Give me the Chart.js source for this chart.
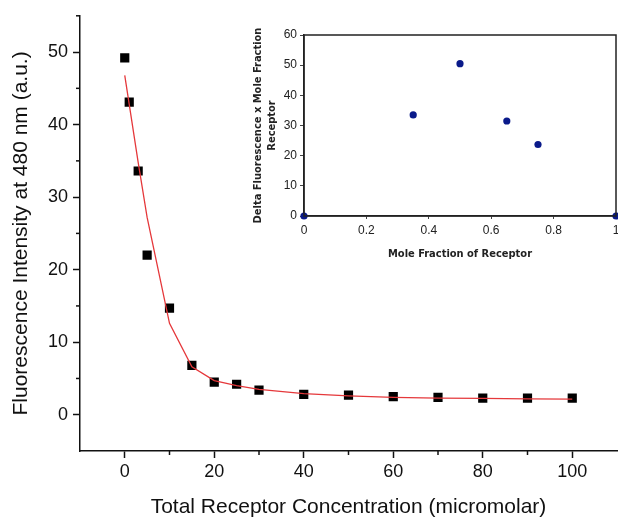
<!DOCTYPE html>
<html>
<head>
<meta charset="utf-8">
<script src="https://cdn.jsdelivr.net/npm/chart.js@4"></script>
<style>
    body { margin: 0; background: #fff; }
    #wrap { position: relative; width: 618px; height: 520px; }
    #main { position: absolute; left: 0; top: 0; }
    #inset { position: absolute; left: 240px; top: 20px; }
</style>
</head>
<body>
<div id="wrap">
    <canvas id="main" width="618" height="520"></canvas>
    <canvas id="inset" width="378" height="250"></canvas>
</div>
<script>
// titration data (main plot)
const concentration = [0, 1, 3, 5, 10, 15, 20, 25, 30, 40, 50, 60, 70, 80, 90, 100];
const intensity = [49.2, 43.1, 33.6, 22.0, 14.7, 6.8, 4.5, 4.2, 3.4, 2.8, 2.7, 2.5, 2.4, 2.3, 2.3, 2.3];
const fitted = [46.8, 42.8, 34.8, 27.2, 12.6, 6.6, 4.7, 4.0, 3.5, 2.9, 2.6, 2.4, 2.3, 2.25, 2.2, 2.15];

// job plot data (inset)
const moleFraction = [0, 0.35, 0.5, 0.65, 0.75, 1];
const deltaFluor = [0, 33.5, 50.5, 31.5, 23.7, 0];

const mainXLabels = [0, 20, 40, 60, 80, 100];
const mainYLabels = [0, 10, 20, 30, 40, 50];

function toPoints(xs, ys) {
    return xs.map((x, i) => ({ x: x, y: ys[i] }));
}

// the scale box keeps extra room for the last label, drop it
function noSidePadding(s) {
    s.paddingLeft = 0;
    s.paddingRight = 0;
}

// short minor ticks, drawn on the scales' own pixel positions
const minorTicks = {
    id: 'minorTicks',
    afterDraw(chart, args, opts) {
        const ctx = chart.ctx;
        ctx.save();
        ctx.strokeStyle = '#111';
        ctx.lineWidth = 1.5;
        const xs = chart.scales.x;
        const ys = chart.scales.y;
        opts.x.forEach(v => {
            const px = xs.getPixelForValue(v);
            ctx.beginPath();
            ctx.moveTo(px, xs.top);
            ctx.lineTo(px, xs.top + 4);
            ctx.stroke();
        });
        opts.y.forEach(v => {
            const py = ys.getPixelForValue(v);
            ctx.beginPath();
            ctx.moveTo(ys.right, py);
            ctx.lineTo(ys.right - 4, py);
            ctx.stroke();
        });
        ctx.restore();
    }
};

const frameBox = {
    id: 'frameBox',
    afterDraw(chart) {
        const a = chart.chartArea;
        const ctx = chart.ctx;
        ctx.save();
        ctx.strokeStyle = '#222';
        ctx.lineWidth = 1.5;
        ctx.strokeRect(a.left, a.top, a.right - a.left, a.bottom - a.top);
        ctx.restore();
    }
};

new Chart(document.getElementById('main'), {
    type: 'scatter',
    data: {
        datasets: [{
            label: 'fit',
            type: 'line',
            data: toPoints(concentration, fitted),
            borderColor: '#e5383b',
            borderWidth: 1.3,
            pointRadius: 0,
            tension: 0,
            fill: false
        }, {
            label: 'data',
            data: toPoints(concentration, intensity),
            pointStyle: 'rect',
            pointRadius: 6.5,
            backgroundColor: '#000',
            borderColor: '#000',
            borderWidth: 0
        }]
    },
    options: {
        responsive: false,
        animation: false,
        layout: { autoPadding: false, padding: { top: 14, right: 1, left: 0, bottom: 0 } },
        plugins: {
            legend: { display: false },
            tooltip: { enabled: false },
            minorTicks: {
                x: [10, 30, 50, 70, 90],
                y: [5, 15, 25, 35, 45, 55]
            }
        },
        scales: {
            x: {
                type: 'linear',
                min: -10,
                max: 110,
                afterFit: s => { s.height = 69; noSidePadding(s); },
                border: { color: '#111', width: 1.5 },
                grid: {
                    drawOnChartArea: false,
                    tickLength: 7,
                    tickWidth: 1.5,
                    tickColor: c => (c.tick && mainXLabels.includes(c.tick.value)) ? '#111' : 'rgba(0,0,0,0)'
                },
                ticks: {
                    stepSize: 10,
                    autoSkip: false,
                    maxRotation: 0,
                    padding: 3,
                    color: '#111',
                    font: { family: 'Liberation Sans, Arial', size: 18 },
                    callback: v => mainXLabels.includes(v) ? String(v) : ''
                },
                title: {
                    display: true,
                    text: 'Total Receptor Concentration (micromolar)',
                    color: '#111',
                    font: { family: 'Liberation Sans, Arial', size: 21 },
                    padding: { top: 0, bottom: 0 }
                }
            },
            y: {
                min: -5,
                max: 55,
                afterFit: s => { s.width = 80; },
                border: { color: '#111', width: 1.5 },
                grid: {
                    drawOnChartArea: false,
                    tickLength: 7,
                    tickWidth: 1.5,
                    tickColor: c => (c.tick && mainYLabels.includes(c.tick.value)) ? '#111' : 'rgba(0,0,0,0)'
                },
                ticks: {
                    stepSize: 5,
                    autoSkip: false,
                    padding: 5,
                    color: '#111',
                    font: { family: 'Liberation Sans, Arial', size: 18 },
                    callback: v => mainYLabels.includes(v) ? String(v) : ''
                },
                title: {
                    display: true,
                    text: 'Fluorescence Intensity at 480 nm (a.u.)',
                    color: '#111',
                    font: { family: 'Liberation Sans, Arial', size: 21 },
                    padding: { top: 9, bottom: 0 }
                }
            }
        }
    },
    plugins: [minorTicks]
});

new Chart(document.getElementById('inset'), {
    type: 'scatter',
    data: {
        datasets: [{
            label: 'job plot',
            data: toPoints(moleFraction, deltaFluor),
            pointRadius: 3.6,
            backgroundColor: '#0a1a8a',
            borderColor: '#0a1a8a',
            borderWidth: 0,
            clip: false
        }]
    },
    options: {
        responsive: false,
        animation: false,
        layout: { autoPadding: false, padding: { top: 15, right: 2, left: 0, bottom: 0 } },
        plugins: {
            legend: { display: false },
            tooltip: { enabled: false }
        },
        scales: {
            x: {
                type: 'linear',
                min: 0,
                max: 1,
                afterFit: s => { s.height = 54; noSidePadding(s); },
                border: { color: '#222', width: 1.5 },
                grid: { drawOnChartArea: false, tickLength: 3, tickColor: '#444' },
                ticks: {
                    stepSize: 0.2,
                    maxRotation: 0,
                    padding: 4,
                    color: '#222',
                    font: { family: 'Liberation Sans, Arial', size: 12 },
                    callback: v => String(Math.round(v * 10) / 10)
                },
                title: {
                    display: true,
                    text: 'Mole Fraction of Receptor',
                    color: '#222',
                    font: { family: 'Liberation Sans Narrow, DejaVu Sans Condensed, Arial', size: 11, weight: 'bold' },
                    padding: { top: 0, bottom: 9 }
                }
            },
            y: {
                min: 0,
                max: 60,
                afterFit: s => { s.width = 64; },
                border: { color: '#222', width: 1.5 },
                grid: { drawOnChartArea: false, tickLength: 4, tickColor: '#444' },
                ticks: {
                    stepSize: 10,
                    padding: 3,
                    color: '#222',
                    font: { family: 'Liberation Sans, Arial', size: 12 }
                },
                title: {
                    display: true,
                    text: ['Delta Fluorescence x Mole Fraction', 'Receptor'],
                    color: '#222',
                    font: { family: 'Liberation Sans Narrow, DejaVu Sans Condensed, Arial', size: 11, weight: 'bold', lineHeight: 1.2 },
                    padding: { top: 12, bottom: 0 }
                }
            }
        }
    },
    plugins: [frameBox]
});
</script>
</body>
</html>
